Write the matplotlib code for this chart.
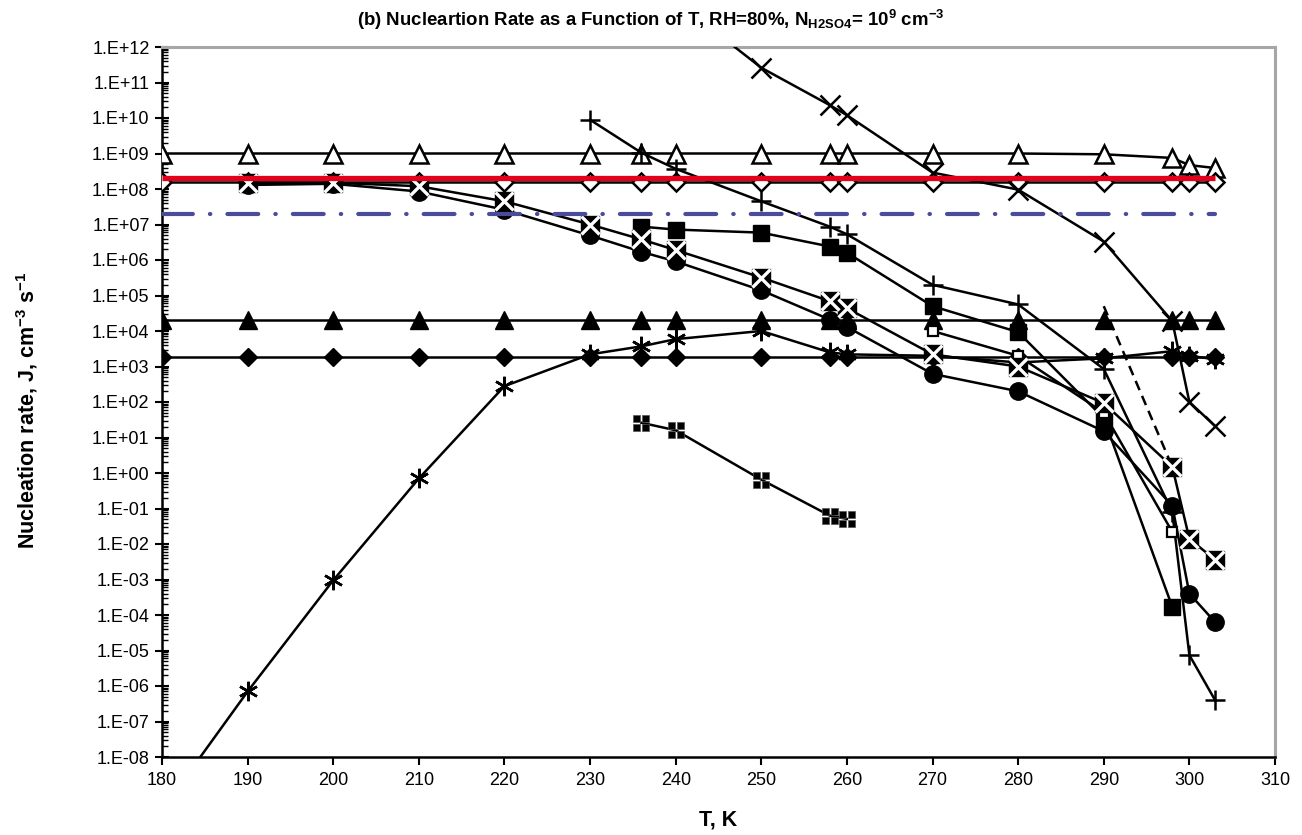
import numpy as np
import matplotlib
matplotlib.use("Agg")
import matplotlib.pyplot as plt
from matplotlib.path import Path
from matplotlib.ticker import LogLocator, FuncFormatter, NullFormatter

plt.rcParams['font.family'] = ['Liberation Sans', 'DejaVu Sans']
plt.rcParams['mathtext.fontset'] = 'custom'
plt.rcParams['mathtext.rm'] = 'Liberation Sans'
plt.rcParams['mathtext.bf'] = 'Liberation Sans:bold'
plt.rcParams['mathtext.it'] = 'Liberation Sans:italic'

# ---------------- data ----------------
T_all = [180, 190, 200, 210, 220, 230, 236, 240, 250, 258, 260, 270, 280, 290, 298, 300, 303]

open_tri = [1e9, 1e9, 1e9, 1e9, 1e9, 1e9, 1e9, 1e9, 1e9, 1e9, 1e9, 1e9, 1e9, 9.5e8, 7.5e8, 4.7e8, 3.9e8]
open_dia = [1.6e8] * 17
filled_tri = [2e4] * 17
filled_dia = [1.8e3] * 17

red_T = [180, 303]
red_J = [2e8, 2e8]
blue_T = [180, 303]
blue_J = [2e7, 2e7]

ast_T = [180, 190, 200, 210, 220, 230, 236, 240, 250, 258, 260, 270, 280, 290, 298, 300, 303]
ast_J = [3.2e-10, 7e-7, 9.5e-4, 0.7, 2.8e2, 2.2e3, 3.7e3, 5.9e3, 1e4, 2.5e3, 2.2e3, 2e3, 1.3e3, 1.7e3, 2.7e3, 2e3, 1.6e3]

x_T = [240, 250, 258, 260, 270, 280, 290, 298, 300, 303]
x_J = [2e13, 2.6e11, 2.3e10, 1.2e10, 2.9e8, 9.6e7, 3.3e6, 1.9e4, 1e2, 2.1e1]

plus_T = [230, 236, 240, 250, 258, 260, 270, 280, 290, 298, 300, 303]
plus_J = [8.9e9, 1.05e9, 3.7e8, 4.5e7, 8.7e6, 5.3e6, 2e5, 5.6e4, 8.5e2, 0.08, 7.4e-6, 4e-7]

wx_T = [190, 200, 210, 220, 230, 236, 240, 250, 258, 260, 270, 280, 290, 298, 300, 303]
wx_J = [1.5e8, 1.5e8, 1.2e8, 4.5e7, 1e7, 3.8e6, 1.9e6, 3.2e5, 6.9e4, 4.4e4, 2.2e3, 1e3, 9.3e1, 1.5, 1.4e-2, 3.6e-3]

circ_T = [190, 200, 210, 220, 230, 236, 240, 250, 258, 260, 270, 280, 290, 298, 300, 303]
circ_J = [1.3e8, 1.4e8, 8.5e7, 2.6e7, 4.9e6, 1.7e6, 9.1e5, 1.4e5, 2.1e4, 1.3e4, 6.2e2, 2e2, 1.5e1, 0.12, 4e-4, 6.3e-5]

sq_T = [236, 240, 250, 258, 260, 270, 280, 290, 298]
sq_J = [8.7e6, 7.2e6, 5.9e6, 2.4e6, 1.6e6, 5e4, 9.3e3, 3.5e1, 1.7e-4]

osq_T = [270, 280, 290, 298]
osq_J = [1e4, 2e3, 5e1, 2.2e-2]

dash_T = [290, 298]
dash_J = [5e4, 1.5]

grid_T = [236, 240, 250, 258, 260]
grid_J = [26, 16, 0.65, 0.063, 0.051]

x_ticks = list(range(180, 311, 10))

# ---------------- figure ----------------
W, H = 1302, 835
fig = plt.figure(figsize=(W / 100, H / 100), dpi=100)
L, R, TOP, BOT = 162, 1275, 47, 757
ax = fig.add_axes([L / W, 1 - BOT / H, (R - L) / W, (BOT - TOP) / H])
ax.set_yscale('log')
ax.set_xlim(180, 310)
ax.set_ylim(1e-8, 1e12)

lw = 1.8
k = 'black'

# four-little-squares marker
def sq(x0, y0, s):
    return [(x0, y0), (x0 + s, y0), (x0 + s, y0 + s), (x0, y0 + s), (x0, y0)]
verts, codes = [], []
for (x0, y0) in [(-1, -1), (0.15, -1), (-1, 0.15), (0.15, 0.15)]:
    verts += sq(x0, y0, 0.85)
    codes += [Path.MOVETO, Path.LINETO, Path.LINETO, Path.LINETO, Path.CLOSEPOLY]
grid_marker = Path(verts, codes)

ax.plot(T_all, open_tri, color=k, lw=lw, marker='^', ms=13, mfc='white', mec=k, mew=1.8, zorder=3)
ax.plot(T_all, open_dia, color=k, lw=lw, marker='D', ms=9.5, mfc='white', mec=k, mew=1.8, zorder=3)
ax.plot(T_all, filled_tri, color=k, lw=lw, marker='^', ms=13, mfc=k, mec=k, zorder=3)
ax.plot(T_all, filled_dia, color=k, lw=lw, marker='D', ms=9.5, mfc=k, mec=k, zorder=3)
ax.plot(ast_T, ast_J, color=k, lw=lw, marker=(6, 2, 0), ms=14, mec=k, mew=1.8, zorder=4)
ax.plot(x_T, x_J, color=k, lw=lw, marker='x', ms=14, mec=k, mew=1.8, zorder=4)
ax.plot(plus_T, plus_J, color=k, lw=lw, marker='+', ms=15, mec=k, mew=1.8, zorder=4)
ax.plot(circ_T, circ_J, color=k, lw=lw, marker='o', ms=12.5, mfc=k, mec=k, zorder=4)
ax.plot(sq_T, sq_J, color=k, lw=lw, marker='s', ms=12, mfc=k, mec=k, zorder=4)
ax.plot(osq_T, osq_J, color=k, lw=lw, marker='s', ms=7, mfc='white', mec=k, mew=1.6, zorder=4)
ax.plot(dash_T, dash_J, color=k, lw=lw, ls=(0, (4, 2.5)), zorder=4)
ax.plot(grid_T, grid_J, color=k, lw=lw, marker=grid_marker, ms=11, mfc=k, mec='#555555', mew=0.5, zorder=4)
# white-X on black square series
ax.plot(wx_T, wx_J, color=k, lw=lw, marker='s', ms=12.5, mfc=k, mec=k, zorder=5)
ax.plot(wx_T, wx_J, ls='none', marker='x', ms=13, mec='white', mew=2.4, zorder=6)

ax.plot(red_T, red_J, color='#e2001a', lw=3.8, solid_capstyle='butt', zorder=7)
ax.plot(blue_T, blue_J, color='#4b4b9c', lw=3.0, ls=(0, (7.4, 4.1, 0.1, 4.1)),
        dash_capstyle='round', zorder=7)

# ---------------- axes styling ----------------
FS = 13
ax.set_xticks(x_ticks)
ax.set_xticklabels([str(t) for t in x_ticks], fontsize=FS)
ax.yaxis.set_major_locator(LogLocator(base=10, numticks=40))
ax.yaxis.set_minor_locator(LogLocator(base=10, subs=np.arange(2, 10), numticks=200))
ax.yaxis.set_minor_formatter(NullFormatter())
ax.yaxis.set_major_formatter(FuncFormatter(lambda v, p: "1.E%+03d" % int(round(np.log10(v)))))
ax.tick_params(axis='y', which='major', direction='inout', length=10, width=1.5, labelsize=FS, pad=4)
ax.tick_params(axis='y', which='minor', direction='in', length=4, width=1.0)
ax.tick_params(axis='x', which='major', direction='out', length=6, width=1.5, labelsize=FS, pad=5)

ax.spines['left'].set_color('black')
ax.spines['left'].set_linewidth(1.8)
ax.spines['bottom'].set_color('black')
ax.spines['bottom'].set_linewidth(1.8)
ax.spines['top'].set_color('#a6a6a6')
ax.spines['top'].set_linewidth(2.2)
ax.spines['right'].set_color('#a6a6a6')
ax.spines['right'].set_linewidth(2.2)

fig.text(0.5, 1 - 20 / H,
         r'(b) Nucleartion Rate as a Function of T, RH=80%, N$_{\mathbf{H2SO4}}$= 10$^{\mathbf{9}}$ cm$^{\mathbf{-3}}$',
         ha='center', va='center', fontsize=13.4, fontweight='bold')
fig.text((L + R) / 2 / W, 1 - 820 / H, 'T, K', ha='center', va='center', fontsize=15.5, fontweight='bold')
fig.text(27 / W, 1 - 410 / H, r'Nucleation rate, J, cm$^{\mathbf{-3}}$ s$^{\mathbf{-1}}$',
         ha='center', va='center', rotation=90, fontsize=15.5, fontweight='bold')

fig.savefig('out.png', dpi=100)
